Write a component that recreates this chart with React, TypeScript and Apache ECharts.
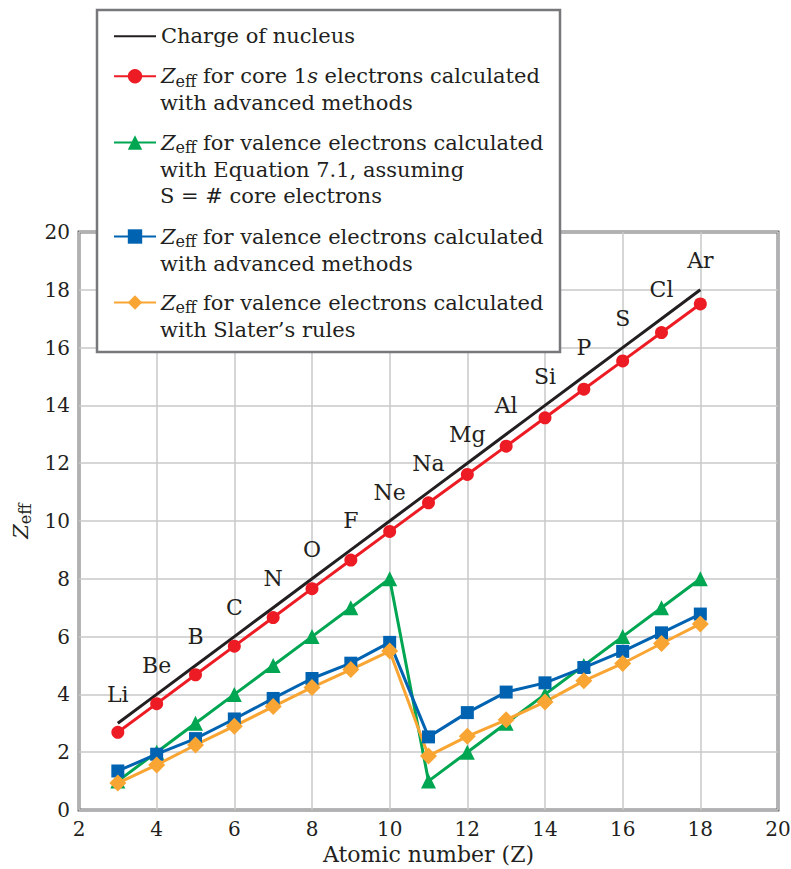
import React, { useEffect, useRef } from "react";
import * as echarts from "echarts";

const elements = ["Li", "Be", "B", "C", "N", "O", "F", "Ne", "Na", "Mg", "Al", "Si", "P", "S", "Cl", "Ar"];
const atomicNumbers = [3, 4, 5, 6, 7, 8, 9, 10, 11, 12, 13, 14, 15, 16, 17, 18];
const chargeOfNucleus = [3, 4, 5, 6, 7, 8, 9, 10, 11, 12, 13, 14, 15, 16, 17, 18];
const coreAdvanced = [2.69, 3.68, 4.68, 5.67, 6.66, 7.66, 8.65, 9.64, 10.63, 11.61, 12.59, 13.57, 14.56, 15.54, 16.52, 17.51];
const valenceEquation = [1, 2, 3, 4, 5, 6, 7, 8, 1, 2, 3, 4, 5, 6, 7, 8];
const valenceAdvanced = [1.35, 1.93, 2.47, 3.15, 3.86, 4.55, 5.08, 5.8, 2.53, 3.37, 4.08, 4.4, 4.93, 5.49, 6.13, 6.78];
const valenceSlater = [0.93, 1.56, 2.25, 2.9, 3.58, 4.24, 4.86, 5.5, 1.87, 2.55, 3.12, 3.74, 4.47, 5.07, 5.76, 6.44];

const seriesNames = [
  "Charge of nucleus",
  "Zeff for core 1s electrons calculated with advanced methods",
  "Zeff for valence electrons calculated with Equation 7.1, assuming S = # core electrons",
  "Zeff for valence electrons calculated with advanced methods",
  "Zeff for valence electrons calculated with Slater\u2019s rules",
];
const legendFirstLines = [
  "{n|Charge of nucleus}",
  "{z|Z}{sub|eff}{n| for core 1}{i|s}{n| electrons calculated}",
  "{z|Z}{sub|eff}{n| for valence electrons calculated}",
  "{z|Z}{sub|eff}{n| for valence electrons calculated}",
  "{z|Z}{sub|eff}{n| for valence electrons calculated}",
];
const legendMoreLines = [
  [],
  ["with advanced methods"],
  ["with Equation 7.1, assuming", "S = # core electrons"],
  ["with advanced methods"],
  ["with Slater\u2019s rules"],
];
const xTicks = { min: 2, max: 20, interval: 2 };
const yTicks = { min: 0, max: 20, interval: 2 };

const FONT = "DejaVu Serif";
const INK = "#231f20";
const colors = ["#231f20", "#ed1c24", "#00a651", "#0063b1", "#f9a533"];
const LEG = 21;

export default function App() {
  const ref = useRef<HTMLDivElement>(null);
  useEffect(() => {
    if (!ref.current) return;
    const chart = echarts.init(ref.current, null, { renderer: "svg" });
    const rich: any = {
      n: { fontSize: LEG, fontFamily: FONT, color: INK, lineHeight: 26 },
      z: { fontSize: LEG, fontFamily: FONT, color: INK, fontStyle: "italic", lineHeight: 26 },
      i: { fontSize: LEG, fontFamily: FONT, color: INK, fontStyle: "italic", lineHeight: 26 },
      sub: { fontSize: 16, fontFamily: FONT, color: INK, verticalAlign: "bottom", lineHeight: 11 },
    };
    const firstLineCenters = [36.7, 76.7, 143, 237, 303];
    const lineStep = 26.7;
    const legends = seriesNames.map((name, k) => ({
      data: [name],
      orient: "vertical",
      left: 113,
      top: firstLineCenters[k] - 11,
      padding: 0,
      itemWidth: 42,
      itemHeight: 18,
      selectedMode: false,
      formatter: () => legendFirstLines[k],
      textStyle: { fontFamily: FONT, fontSize: LEG, color: INK, rich },
      z: 6,
    }));
    const graphics: any[] = [
      {
        type: "rect",
        z: 3,
        shape: { x: 97, y: 10, width: 463, height: 342 },
        style: { fill: "#ffffff", stroke: "#77787b", lineWidth: 2.5 },
      },
    ];
    legendMoreLines.forEach((lines, k) => {
      lines.forEach((t, j) => {
        graphics.push({
          type: "text",
          z: 6,
          x: 160,
          y: firstLineCenters[k] + lineStep * (j + 1),
          style: {
            text: t,
            fontFamily: FONT,
            fontSize: LEG,
            fill: INK,
            verticalAlign: "middle",
          },
        });
      });
    });
    const toData = (arr: number[]) => atomicNumbers.map((z, i) => [z, arr[i]]);
    chart.setOption({
      animation: false,
      backgroundColor: "#ffffff",
      textStyle: { fontFamily: FONT },
      grid: {
        left: 79,
        right: 13,
        top: 232,
        bottom: 59,
        show: true,
        borderColor: "#6d6e71",
        borderWidth: 3,
        backgroundColor: "transparent",
        outerBoundsMode: "none",
        containLabel: false,
      },
      legend: legends,
      graphic: graphics,
      xAxis: {
        type: "value",
        ...xTicks,
        name: "Atomic number (Z)",
        nameLocation: "middle",
        nameGap: 32,
        nameTextStyle: { fontFamily: FONT, fontSize: 22, color: INK },
        axisLine: { show: false },
        axisTick: { show: false },
        axisLabel: { fontFamily: FONT, fontSize: 20, color: INK, margin: 9 },
        splitLine: { show: true, lineStyle: { color: "#c8c8c8", width: 1.5 } },
      },
      yAxis: {
        type: "value",
        ...yTicks,
        name: "{z|Z}{sub|eff}",
        nameLocation: "middle",
        nameGap: 42,
        nameTextStyle: { fontFamily: FONT, fontSize: LEG, color: INK, rich },
        axisLine: { show: false },
        axisTick: { show: false },
        axisLabel: { fontFamily: FONT, fontSize: 20, color: INK, margin: 9 },
        splitLine: { show: true, lineStyle: { color: "#c8c8c8", width: 1.5 } },
      },
      series: [
        {
          name: seriesNames[0],
          type: "line",
          data: toData(chargeOfNucleus),
          symbol: "circle",
          symbolSize: 2,
          itemStyle: { color: "transparent" },
          lineStyle: { color: colors[0], width: 3 },
          label: {
            show: true,
            position: "top",
            distance: 17,
            fontFamily: FONT,
            fontSize: 22,
            color: INK,
            formatter: (p: any) => elements[p.dataIndex],
          },
          z: 2,
        },
        {
          name: seriesNames[1],
          type: "line",
          data: toData(coreAdvanced),
          symbol: "circle",
          symbolSize: 13,
          itemStyle: { color: colors[1] },
          lineStyle: { color: colors[1], width: 3 },
          z: 2,
        },
        {
          name: seriesNames[2],
          type: "line",
          data: toData(valenceEquation),
          symbol: "triangle",
          symbolSize: 15,
          itemStyle: { color: colors[2] },
          lineStyle: { color: colors[2], width: 3 },
          z: 2,
        },
        {
          name: seriesNames[3],
          type: "line",
          data: toData(valenceAdvanced),
          symbol: "rect",
          symbolSize: 13,
          itemStyle: { color: colors[3] },
          lineStyle: { color: colors[3], width: 3 },
          z: 2,
        },
        {
          name: seriesNames[4],
          type: "line",
          data: toData(valenceSlater),
          symbol: "diamond",
          symbolSize: 17,
          itemStyle: { color: colors[4] },
          lineStyle: { color: colors[4], width: 3 },
          z: 2,
        },
      ],
    });
    return () => chart.dispose();
  }, []);
  return (
    <div
      ref={ref}
      style={{ position: "fixed", left: 0, top: 0, width: 791, height: 869 }}
    />
  );
}
